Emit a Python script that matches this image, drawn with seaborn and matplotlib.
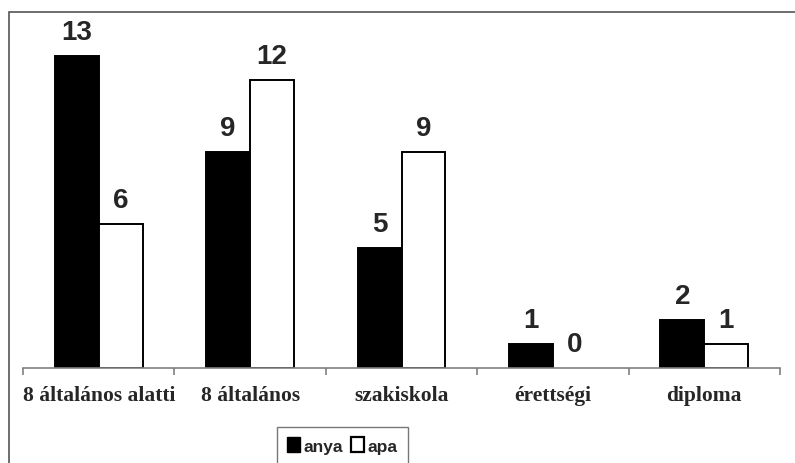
import matplotlib
matplotlib.use("Agg")
import matplotlib.pyplot as plt
import matplotlib.patches as mpatches
import seaborn as sns
import pandas as pd

categories = ["8 általános alatti", "8 általános", "szakiskola", "érettségi", "diploma"]
anya = [13, 9, 5, 1, 2]
apa = [6, 12, 9, 0, 1]
series_names = ["anya", "apa"]

df = pd.DataFrame({
    "kategoria": categories * 2,
    "szulo": [series_names[0]] * len(categories) + [series_names[1]] * len(categories),
    "fo": anya + apa,
})

sns.set_theme(style="white")
plt.rcParams["font.family"] = ["Liberation Sans", "DejaVu Sans"]

fig = plt.figure(figsize=(7.95, 4.64), dpi=100)
ax = fig.add_axes([23 / 795, 1 - 369 / 464, (780 - 23) / 795, (369 - 33) / 464])

sns.barplot(
    data=df, x="kategoria", y="fo", hue="szulo", order=categories,
    hue_order=series_names, palette={"anya": "black", "apa": "white"},
    width=0.58, edgecolor="black", linewidth=1.4, ax=ax, legend=False,
)

for cont in ax.containers:
    for rect in cont:
        if rect.get_height() == 0:
            rect.set_linewidth(0)
    ax.bar_label(cont, padding=8, fontsize=20, fontweight="bold",
                 family=["Liberation Sans", "DejaVu Sans"])

ax.set_ylim(0, 14)
ax.set_xlim(-0.5, len(categories) - 0.5)
ax.set_xlabel("")
ax.set_ylabel("")
ax.set_yticks([])
for side in ["left", "right", "top"]:
    ax.spines[side].set_visible(False)
ax.spines["bottom"].set_color("#808080")
ax.spines["bottom"].set_linewidth(1.2)

ax.set_xticks(range(len(categories)))
ax.set_xticklabels(categories, fontsize=15.5, fontweight="bold",
                   family=["Liberation Serif", "DejaVu Serif"])
ax.tick_params(axis="x", which="major", length=0, pad=12)
ax.set_xticks([i - 0.5 for i in range(len(categories) + 1)], minor=True)
ax.tick_params(axis="x", which="minor", length=5, width=1.2, color="#808080",
               direction="out", bottom=True)

# outer chart frame
frame = mpatches.Rectangle((9 / 795, -0.2), 1.2, 1 - 13 / 464 + 0.2,
                           transform=fig.transFigure, fill=False,
                           edgecolor="#555555", linewidth=1.2, clip_on=False)
fig.patches.append(frame)

handles = [
    mpatches.Patch(facecolor="black", edgecolor="black", label="anya"),
    mpatches.Patch(facecolor="white", edgecolor="black", linewidth=1.6, label="apa"),
]
leg = fig.legend(handles=handles, loc="upper left",
                 bbox_to_anchor=(277 / 795, 1 - 428 / 464), borderaxespad=0,
                 ncol=2, frameon=True, fancybox=False, edgecolor="#555555",
                 prop={"family": ["Liberation Sans", "DejaVu Sans"], "weight": "bold", "size": 12.5},
                 handlelength=0.75, handleheight=0.9, handletextpad=0.2,
                 columnspacing=0.45, borderpad=0.6)
leg.get_frame().set_linewidth(1.0)

fig.savefig("out.png", dpi=100)
